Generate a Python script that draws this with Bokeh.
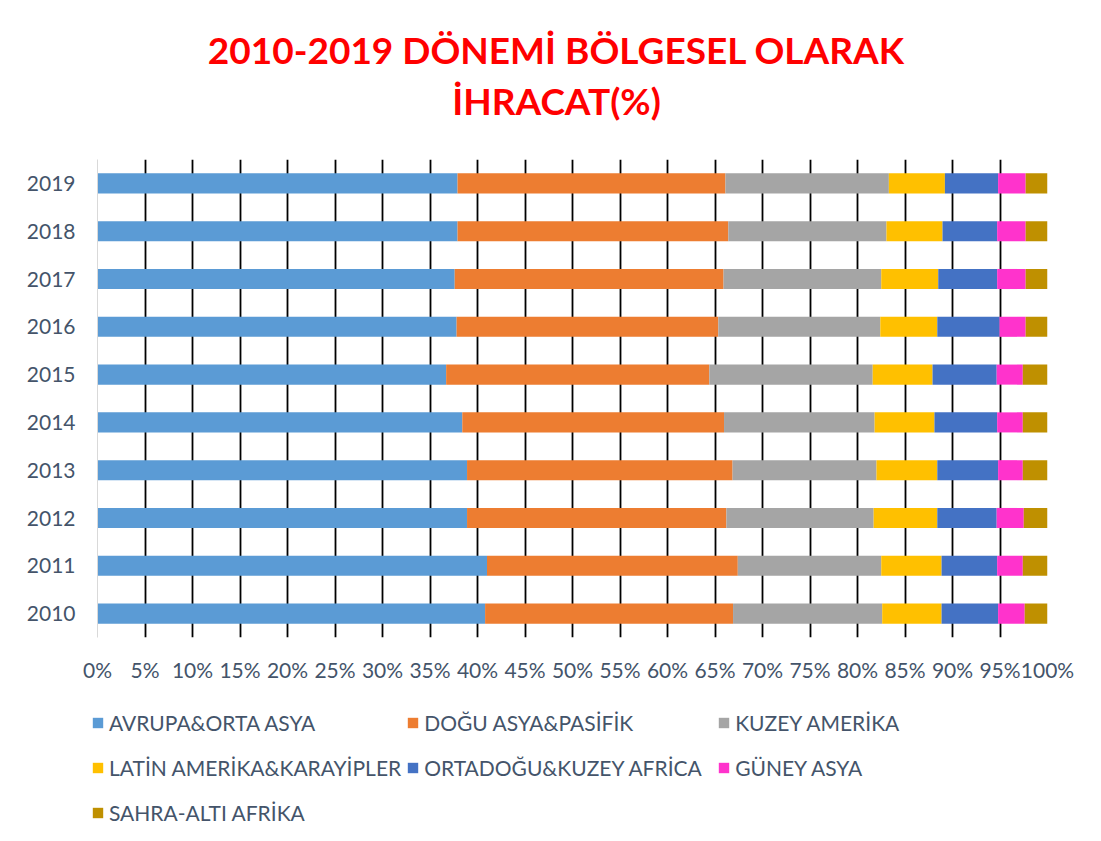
from bokeh.plotting import figure
from bokeh.layouts import column
from bokeh.models import (FactorRange, Range1d, FixedTicker, PrintfTickFormatter,
                          Legend, LegendItem, Label)
from bokeh.embed import file_html
from bokeh.resources import INLINE

# ---- data (percent share of exports by region) ----
years = ["2010", "2011", "2012", "2013", "2014", "2015", "2016", "2017", "2018", "2019"]
series_names = ["AVRUPA&ORTA ASYA", "DOĞU ASYA&PASİFİK", "KUZEY AMERİKA",
                "LATİN AMERİKA&KARAYİPLER", "ORTADOĞU&KUZEY AFRİCA", "GÜNEY ASYA",
                "SAHRA-ALTI AFRİKA"]
avrupa   = [40.8, 41.0, 38.9, 38.9, 38.4, 36.7, 37.8, 37.6, 37.9, 37.9]
dogu     = [26.1, 26.4, 27.3, 27.95, 27.55, 27.7, 27.55, 28.3, 28.5, 28.2]
kuzey    = [15.7, 15.1, 15.5, 15.15, 15.85, 17.2, 17.05, 16.6, 16.65, 17.2]
latin    = [6.25, 6.35, 6.7, 6.4, 6.3, 6.3, 6.0, 6.0, 5.9, 5.9]
ortadogu = [5.95, 5.85, 6.25, 6.4, 6.6, 6.75, 6.55, 6.2, 5.75, 5.6]
guney    = [2.8, 2.7, 2.85, 2.6, 2.7, 2.75, 2.75, 3.0, 3.0, 2.9]
sahra    = [2.4, 2.6, 2.5, 2.6, 2.6, 2.6, 2.3, 2.3, 2.3, 2.3]
x_ticks = list(range(0, 101, 5))
title_lines = ["2010-2019 DÖNEMİ BÖLGESEL OLARAK", "İHRACAT(%)"]

colors = ["#5B9BD5", "#ED7D31", "#A5A5A5", "#FFC000", "#4472C4", "#FF33CC", "#BF9000"]
keys = ["s0", "s1", "s2", "s3", "s4", "s5", "s6"]
source = dict(year=years, s0=avrupa, s1=dogu, s2=kuzey, s3=latin, s4=ortadogu,
              s5=guney, s6=sahra)

TXT = "#44546A"
FONT = "Lato"
W = 1085


def blank(h, y_range):
    f = figure(width=W, height=h, output_backend="svg", toolbar_location=None,
               x_range=Range1d(0, W), y_range=y_range, title=None,
               x_axis_location=None, y_axis_location=None,
               min_border=0, frame_align=False)
    f.outline_line_color = None
    f.grid.grid_line_color = None
    f.background_fill_color = "white"
    f.border_fill_color = "white"
    return f


# ---- title strip ----
TH = 154
tf = blank(TH, Range1d(TH, 0))
for txt, yy in zip(title_lines, [49, 100]):
    tf.add_layout(Label(x=556, y=yy, text=txt, text_align="center",
                        text_baseline="middle", text_font=FONT,
                        text_font_size="37px", text_font_style="bold",
                        text_color="#FF0000"))

# ---- main chart ----
p = figure(width=W, height=533, output_backend="svg", toolbar_location=None,
           title=None,
           y_range=FactorRange(*years, range_padding=0), x_range=Range1d(0, 100),
           min_border_left=97, min_border_right=38, min_border_top=5,
           min_border_bottom=50)
p.background_fill_color = "white"
p.border_fill_color = "white"
p.outline_line_color = None

renderers = p.hbar_stack(keys, y="year", height=0.42, color=colors, source=source,
                         line_color=None)

p.xaxis.ticker = FixedTicker(ticks=x_ticks)
p.xaxis.formatter = PrintfTickFormatter(format="%d%%")
p.xaxis.axis_line_color = None
p.xaxis.major_tick_line_color = None
p.xaxis.minor_tick_line_color = None
p.xaxis.major_label_standoff = 13
p.yaxis.axis_line_color = "#D9D9D9"
p.yaxis.major_tick_line_color = None
p.yaxis.minor_tick_line_color = None
p.yaxis.major_label_standoff = 16
for ax in (p.xaxis[0], p.yaxis[0]):
    ax.major_label_text_font = FONT
    ax.major_label_text_font_size = "21px"
    ax.major_label_text_color = TXT

p.xgrid.ticker = FixedTicker(ticks=x_ticks[1:])
p.xgrid.grid_line_color = "#000000"
p.xgrid.grid_line_width = 1.8
p.ygrid.grid_line_color = None

# ---- legend strip (hidden proxy bars carry the legend swatches) ----
LH = 148
lf = blank(LH, FactorRange(*years))
proxies = lf.hbar_stack(keys, y="year", height=0.42, color=colors, source=source,
                        line_color=None, visible=False)
items = [LegendItem(label=n, renderers=[r]) for n, r in zip(series_names, proxies)]
legend = Legend(items=items, orientation="horizontal", ncols=3,
                location=(91, 3), glyph_width=13, glyph_height=13,
                label_standoff=5, label_width=288, label_height=40, spacing=5,
                padding=0, margin=0, inactive_fill_alpha=0,
                label_text_font=FONT, label_text_font_size="21px",
                label_text_color=TXT, border_line_color=None,
                background_fill_alpha=0)
lf.add_layout(legend, "center")

layout = column(tf, p, lf, spacing=0)
open("out.html", "w").write(file_html(layout, INLINE))
